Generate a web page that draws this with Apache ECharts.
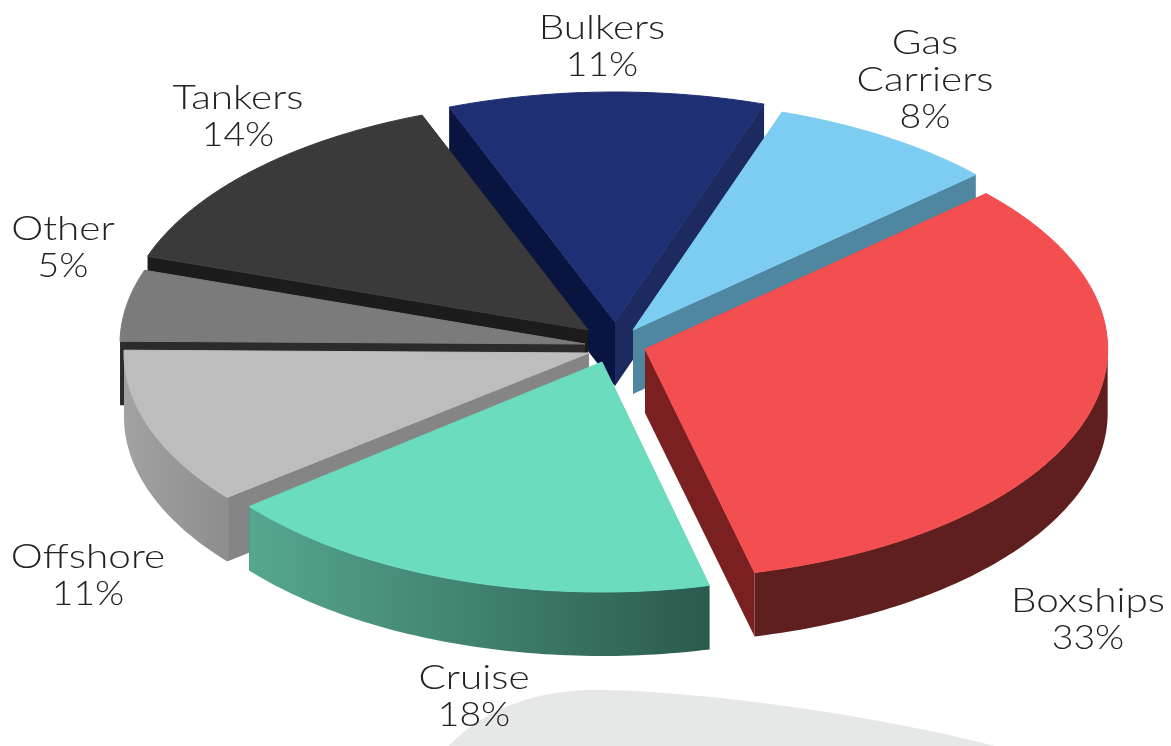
<!DOCTYPE html>
<html>
<head>
<meta charset="utf-8">
<style>
  html, body { margin: 0; padding: 0; background: #fff; }
  #chart { width: 1171px; height: 746px; }
</style>
<script src="https://cdn.jsdelivr.net/npm/echarts@6/dist/echarts.min.js"></script>
</head>
<body>
<div id="chart"></div>
<script>
// values, clockwise from Boxships
const categories = ['Boxships', 'Cruise', 'Offshore', 'Other', 'Tankers', 'Bulkers', 'Gas Carriers'];
const shares = [33, 18, 11, 5, 14, 11, 8];
const labelLines = [['Boxships'], ['Cruise'], ['Offshore'], ['Other'], ['Tankers'], ['Bulkers'], ['Gas', 'Carriers']];

// apex of each exploded slice
const apexX = [645, 602, 589, 585, 588, 615, 633];
const apexY = [349, 362, 353, 344, 330, 322, 330];
const radiusScale = [0.995, 0.975, 1, 1, 1, 1, 1];
const labelX = [1088, 474, 88, 63, 238, 602, 925];
const labelY = [601, 678, 557, 229, 98, 28, 43];
const paintOrder = [6, 7, 5, 4, 3, 1, 2]; // who sits on top of whom, same order as categories

const topColors = ['#f34e50', '#6cdcbf', '#bdbdbd', '#7b7b7b', '#3a3a3a', '#1f2f74', '#7dcdf2'];
const startWalls = ['#7a2020', '#2b5b4f', '#858585', '#2b2b2b', '#1c1c1c', '#0a1440', '#4f87a0'];
const endWalls = ['#7a2020', '#2b5b4f', '#858585', '#2b2b2b', '#1c1c1c', '#1c2a60', '#4f87a0'];
const rimLeft = ['#5f1f1f', '#56a790', '#a2a2a2', '#555555', '#1c1c1c', '#0a1440', '#4f87a0'];
const rimRight = ['#5f1f1f', '#2a5a4e', '#8e8e8e', '#555555', '#1c1c1c', '#1c2a60', '#4f87a0'];

const rx = 465;
const ry = 230;
const depth = 64;
const firstAngle = -42.5;
const total = shares.reduce((a, b) => a + b, 0);

const sliceAngles = [];
let running = firstAngle;
shares.forEach((v) => {
  const next = running + (v / total) * 360;
  sliceAngles.push([running, next]);
  running = next;
});

function rimPoint(i, deg, drop) {
  const rad = (deg * Math.PI) / 180;
  return [apexX[i] + rx * radiusScale[i] * Math.cos(rad), apexY[i] + ry * Math.sin(rad) + drop];
}

function wallQuad(i, deg, fill, z2) {
  const a = [apexX[i], apexY[i]];
  const b = rimPoint(i, deg, 0);
  return {
    type: 'polygon',
    z2: z2,
    shape: { points: [a, b, [b[0], b[1] + depth], [a[0], a[1] + depth]] },
    style: { fill: fill },
  };
}

function renderSlice(params, api) {
  const i = api.value(0);
  const [a0, a1] = sliceAngles[i];
  const z = paintOrder[i] * 10;
  const children = [];

  children.push(wallQuad(i, a0, startWalls[i], z));
  children.push(wallQuad(i, a1, endWalls[i], z));

  // rim wall, front half only
  const fromDeg = Math.max(a0, 0);
  const toDeg = Math.min(a1, 180);
  if (toDeg > fromDeg) {
    const upper = [];
    const lower = [];
    for (let d = fromDeg; d < toDeg; d += 1) {
      upper.push(rimPoint(i, d, 0));
      lower.unshift(rimPoint(i, d, depth));
    }
    upper.push(rimPoint(i, toDeg, 0));
    lower.unshift(rimPoint(i, toDeg, depth));
    children.push({
      type: 'polygon',
      z2: z + 1,
      shape: { points: upper.concat(lower) },
      style: {
        fill: new echarts.graphic.LinearGradient(0, 0, 1, 0, [
          { offset: 0, color: rimLeft[i] },
          { offset: 1, color: rimRight[i] },
        ]),
      },
    });
  }

  // top face
  const face = [[apexX[i], apexY[i]]];
  for (let d = a0; d < a1; d += 1) face.push(rimPoint(i, d, 0));
  face.push(rimPoint(i, a1, 0));
  children.push({
    type: 'polygon',
    z2: z + 2,
    shape: { points: face },
    style: { fill: topColors[i], stroke: topColors[i], lineWidth: 1 },
  });

  // label, stretched a bit since the original face is wider than Lato
  const lines = labelLines[i].concat([api.value(1) + '%']);
  lines.forEach((line, n) => {
    children.push({
      type: 'text',
      z2: 200,
      x: labelX[i],
      y: labelY[i] + n * 37,
      scaleX: n === lines.length - 1 ? 1.1 : 1.19,
      style: {
        text: line,
        fill: '#222',
        font: '300 34px Lato',
        align: 'center',
        verticalAlign: 'middle',
      },
    });
  });

  return { type: 'group', children: children };
}

// the pale shape cut off by the bottom edge
function renderBackdrop() {
  return {
    type: 'path',
    shape: {
      pathData: 'M445 750 C480 710 535 690 595 690 C680 690 860 710 1010 750 Z',
      layout: 'cover',
      x: 445,
      y: 690,
      width: 565,
      height: 60,
    },
    style: { fill: '#e6e7e7' },
  };
}

const chart = echarts.init(document.getElementById('chart'));
chart.setOption({
  animation: false,
  backgroundColor: '#fff',
  series: [
    {
      type: 'custom',
      coordinateSystem: 'none',
      silent: true,
      z: 1,
      data: [0],
      renderItem: renderBackdrop,
    },
    {
      type: 'custom',
      coordinateSystem: 'none',
      silent: true,
      z: 2,
      data: categories.map((name, i) => ({ name: name, value: [i, shares[i]] })),
      renderItem: renderSlice,
    },
  ],
});
</script>
</body>
</html>
